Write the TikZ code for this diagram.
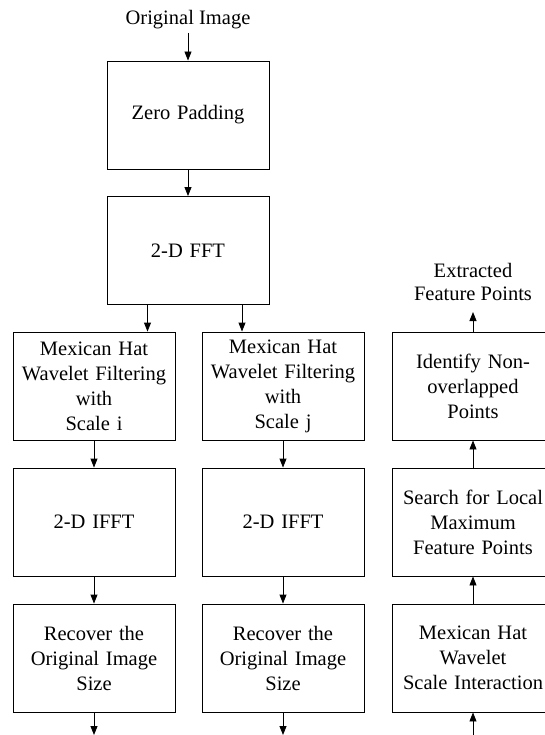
\documentclass[tikz,border=0pt]{standalone}
\usepackage{fontspec}
\setmainfont{Liberation Serif}
\usetikzlibrary{arrows.meta}
\begin{document}
\begin{tikzpicture}[x=1pt,y=-1pt,
  stage/.style={draw, line width=0.9pt, minimum width=162pt, minimum height=108pt,
    text width=158pt, align=center, inner sep=0pt,
    font=\fontsize{20.5}{25}\selectfont},
  lbl/.style={align=center, inner sep=0pt, font=\fontsize{20.5}{23.5}\selectfont},
  flow/.style={line width=0.9pt, -{Triangle[length=9pt,width=7pt]}}]
\useasboundingbox (0,0) rectangle (544,735);

% input and frequency-domain preparation
\node[lbl, anchor=base] (orig) at (188,25) {Original Image};
\node[stage] (zp)  at (188,115)   {Zero Padding};
\node[stage] (fft) at (188,250.5) {2-D FFT};

% scale i branch
\node[stage] (mhi)   at (94,386) {Mexican Hat\\Wavelet Filtering\\with\\Scale i};
\node[stage] (iffti) at (94,522) {2-D IFFT};
\node[stage] (reci)  at (94,658) {Recover the\\Original Image\\Size};

% scale j branch
\node[stage] (mhj)   at (283,386) {Mexican Hat\\Wavelet Filtering\\with\\Scale j};
\node[stage] (ifftj) at (283,522) {2-D IFFT};
\node[stage] (recj)  at (283,658) {Recover the\\Original Image\\Size};

% feature point extraction (flows upward)
\node[stage] (mhs)    at (473,658) {Mexican Hat\\Wavelet\\Scale Interaction};
\node[stage] (search) at (473,522) {Search for Local\\Maximum\\Feature Points};
\node[stage] (nonov)  at (473,386) {Identify Non-\\overlapped\\Points};
\node[lbl, outer ysep=11pt, anchor=south] (ext) at (473,312) {Extracted\\Feature Points};

% free ends at the lower edge
\coordinate (outi) at (94,735);
\coordinate (outj) at (283,735);
\coordinate (ins)  at (473,735);

% connectors
\draw[flow] ([yshift=-8pt]orig.base) -- (zp.north);
\draw[flow] (zp) -- (fft);
\draw[flow] ([xshift=-40.5pt]fft.south) -- ([xshift=-40.5pt]fft.south |- mhi.north);
\draw[flow] ([xshift=54pt]fft.south) -- ([xshift=54pt]fft.south |- mhj.north);
\draw[flow] (mhi) -- (iffti);
\draw[flow] (iffti) -- (reci);
\draw[flow] (reci) -- (outi);
\draw[flow] (mhj) -- (ifftj);
\draw[flow] (ifftj) -- (recj);
\draw[flow] (recj) -- (outj);
\draw[flow] (ins) -- (mhs);
\draw[flow] (mhs) -- (search);
\draw[flow] (search) -- (nonov);
\draw[flow] (nonov) -- (ext);
\end{tikzpicture}
\end{document}
